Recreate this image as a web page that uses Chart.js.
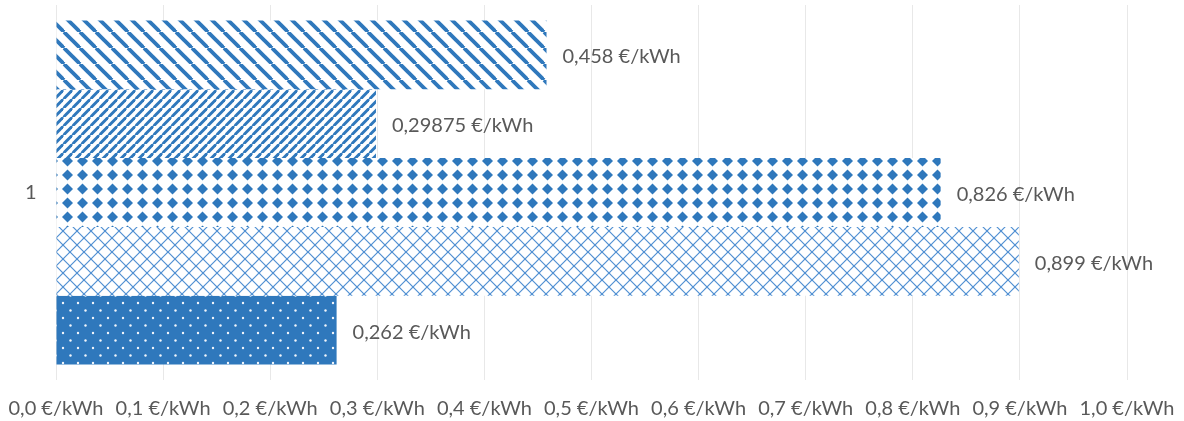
<!DOCTYPE html>
<html>
<head>
<meta charset="utf-8">
<script src="https://cdn.jsdelivr.net/npm/chart.js@4"></script>
<style>
  html, body { margin: 0; padding: 0; background: #fff; }
  #wrap { width: 1184px; height: 421px; position: relative; }
</style>
</head>
<body>
<div id="wrap"><canvas id="c"></canvas></div>
<script>
// data
const categories = ['1'];
const seriesValues = [0.458, 0.29875, 0.826, 0.899, 0.262];
const tickValues = [0, 0.1, 0.2, 0.3, 0.4, 0.5, 0.6, 0.7, 0.8, 0.9, 1.0];
const unit = '€/kWh';

const BLUE = '#2f78bc';
const FONT = 'Lato';

// make a pattern from a small tile
function tile(w, h, draw) {
  const c = document.createElement('canvas');
  c.width = w; c.height = h;
  const g = c.getContext('2d');
  draw(g, w, h);
  return document.getElementById('c').getContext('2d').createPattern(c, 'repeat');
}

function stripes(s, lw, up) {
  return tile(s, s, (g) => {
    g.fillStyle = '#fff';
    g.fillRect(0, 0, s, s);
    g.strokeStyle = BLUE;
    g.lineWidth = lw;
    for (let k = -1; k <= 1; k++) {
      g.beginPath();
      if (up) { g.moveTo(k * s, s); g.lineTo(k * s + s, 0); }
      else    { g.moveTo(k * s, 0); g.lineTo(k * s + s, s); }
      g.stroke();
    }
  });
}

const diamonds = tile(15, 14, (g, w, h) => {
  g.fillStyle = '#fff';
  g.fillRect(0, 0, w, h);
  g.fillStyle = BLUE;
  g.beginPath();
  g.moveTo(w / 2, 1.5);
  g.lineTo(w - 2, h / 2);
  g.lineTo(w / 2, h - 1.5);
  g.lineTo(2, h / 2);
  g.closePath();
  g.fill();
});

const lattice = tile(14, 14, (g, w, h) => {
  g.fillStyle = '#fff';
  g.fillRect(0, 0, w, h);
  g.strokeStyle = '#4f8fd2';
  g.lineWidth = 1.2;
  for (let k = -1; k <= 1; k++) {
    g.beginPath(); g.moveTo(k * w, 0); g.lineTo(k * w + w, h); g.stroke();
    g.beginPath(); g.moveTo(k * w, h); g.lineTo(k * w + w, 0); g.stroke();
  }
});

const dots = tile(15, 15, (g, w, h) => {
  g.fillStyle = BLUE;
  g.fillRect(0, 0, w, h);
  g.fillStyle = '#f2f6fb';
  [[3, 3], [10.5, 10.5]].forEach(([x, y]) => {
    g.beginPath(); g.arc(x, y, 1.2, 0, Math.PI * 2); g.fill();
  });
});

const fills = [stripes(16, 3.8, false), stripes(9.5, 3, true), diamonds, lattice, dots];

const fmt = (v) => String(v).replace('.', ',');

// value labels after the bar end
const valueLabels = {
  id: 'valueLabels',
  afterDatasetsDraw(chart) {
    const ctx = chart.ctx;
    ctx.save();
    ctx.font = `20px ${FONT}`;
    ctx.fillStyle = '#595959';
    ctx.textAlign = 'left';
    ctx.textBaseline = 'middle';
    chart.data.datasets.forEach((ds, i) => {
      chart.getDatasetMeta(i).data.forEach((bar, j) => {
        ctx.fillText(`${fmt(ds.data[j])} ${unit}`, bar.x + 16, bar.y + 2);
      });
    });
    ctx.restore();
  }
};

new Chart(document.getElementById('c'), {
  type: 'bar',
  data: {
    labels: categories,
    datasets: seriesValues.map((v, i) => ({
      label: 'S' + (i + 1),
      data: [v],
      backgroundColor: fills[i],
      borderWidth: 0,
      categoryPercentage: 0.917,
      barPercentage: 1.0,
    })),
  },
  options: {
    indexAxis: 'y',
    responsive: true,
    maintainAspectRatio: false,
    animation: false,
    layout: { padding: { top: 5, right: 57, left: 25, bottom: 0 } },
    plugins: { legend: { display: false }, tooltip: { enabled: false } },
    scales: {
      x: {
        min: 0,
        max: 1,
        afterBuildTicks: (ax) => { ax.ticks = tickValues.map((v) => ({ value: v })); },
        afterFit: (ax) => { ax.height = 41; ax.paddingLeft = 0; ax.paddingRight = 0; },
        grid: { color: '#e8e8e8', drawTicks: false },
        border: { display: false },
        ticks: {
          padding: 17,
          color: '#595959',
          font: { family: FONT, size: 20 },
          callback: (v) => `${Number(v).toFixed(1).replace('.', ',')} ${unit}`,
        },
      },
      y: {
        afterFit: (ax) => { ax.width = 31; ax.paddingTop = 0; ax.paddingBottom = 0; },
        grid: { display: false },
        border: { display: false },
        ticks: {
          padding: 0,
          crossAlign: 'far',
          color: '#595959',
          font: { family: FONT, size: 20 },
        },
      },
    },
  },
  plugins: [valueLabels],
});
</script>
</body>
</html>
